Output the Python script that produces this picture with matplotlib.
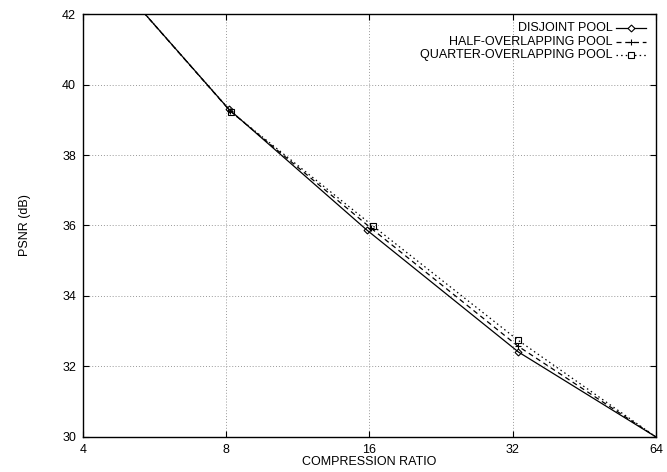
import matplotlib
matplotlib.use("Agg")
import matplotlib.pyplot as plt
from matplotlib.ticker import FixedLocator, NullLocator

plt.rcParams['font.family'] = ['Liberation Sans', 'DejaVu Sans']

# ---------------- DATA ---------------- #
# end points lie outside the plot window and get clipped, markers only on the inner points
ratio_disjoint = [4.0, 8.1, 15.8, 32.9, 64.0]
psnr_disjoint = [44.0, 39.30, 35.87, 32.41, 30.0]

ratio_half = [4.0, 8.15, 16.1, 32.8, 64.0]
psnr_half = [44.0, 39.25, 35.93, 32.58, 30.0]

ratio_quarter = [4.0, 8.2, 16.3, 32.8, 64.0]
psnr_quarter = [44.0, 39.22, 35.98, 32.75, 30.0]

labels = ["DISJOINT POOL", "HALF-OVERLAPPING POOL", "QUARTER-OVERLAPPING POOL"]
x_ticks = [4, 8, 16, 32, 64]
y_ticks = [30, 32, 34, 36, 38, 40, 42]

# ---------------- PLOT ---------------- #
fig = plt.figure(figsize=(6.67, 4.72), dpi=100)
ax = fig.add_axes([0.1244, 0.0742, 0.8591, 0.8961])

styles = [
    dict(ls='-', marker='D', ms=3.5),
    dict(ls=(0, (4, 3)), marker='+', ms=5),
    dict(ls=(0, (1.2, 2.5)), marker='s', ms=5),
]
series = [(ratio_disjoint, psnr_disjoint), (ratio_half, psnr_half), (ratio_quarter, psnr_quarter)]

for (xs, ys), st in zip(series, styles):
    ax.plot(xs, ys, color='black', lw=0.9, ls=st['ls'], marker=st['marker'],
            ms=st['ms'], mfc='none', mec='black', mew=0.8, markevery=[1, 2, 3])

ax.set_xscale('log', base=2)
ax.set_xlim(4, 64)
ax.set_ylim(30, 42)
ax.xaxis.set_major_locator(FixedLocator(x_ticks))
ax.xaxis.set_minor_locator(NullLocator())
ax.set_xticklabels([str(t) for t in x_ticks])
ax.set_yticks(y_ticks)
ax.set_yticklabels([str(t) for t in y_ticks])

ax.tick_params(direction='in', length=4, width=0.8, labelsize=9, top=True, right=True, pad=5)
ax.grid(True, color='#999999', ls=(0, (1, 2)), lw=0.7)
for sp in ax.spines.values():
    sp.set_linewidth(1.0)

ax.set_xlabel("COMPRESSION RATIO", fontsize=9, labelpad=0)
ax.set_ylabel("PSNR (dB)", fontsize=9, labelpad=22)

# gnuplot style key: right aligned text, sample line to the right
key_y = [0.968, 0.935, 0.903]
for lab, st, yk in zip(labels, styles, key_y):
    ax.text(0.924, yk, lab, transform=ax.transAxes, ha='right', va='center', fontsize=9)
    ax.plot([0.931, 0.982], [yk, yk], transform=ax.transAxes, color='black', lw=0.9,
            ls=st['ls'], clip_on=False)
    ax.plot([0.9565], [yk], transform=ax.transAxes, color='black', marker=st['marker'],
            ms=st['ms'], mfc='white' if st['marker'] != '+' else 'none', mec='black',
            mew=0.8, clip_on=False)

fig.savefig("out.png", dpi=100)
